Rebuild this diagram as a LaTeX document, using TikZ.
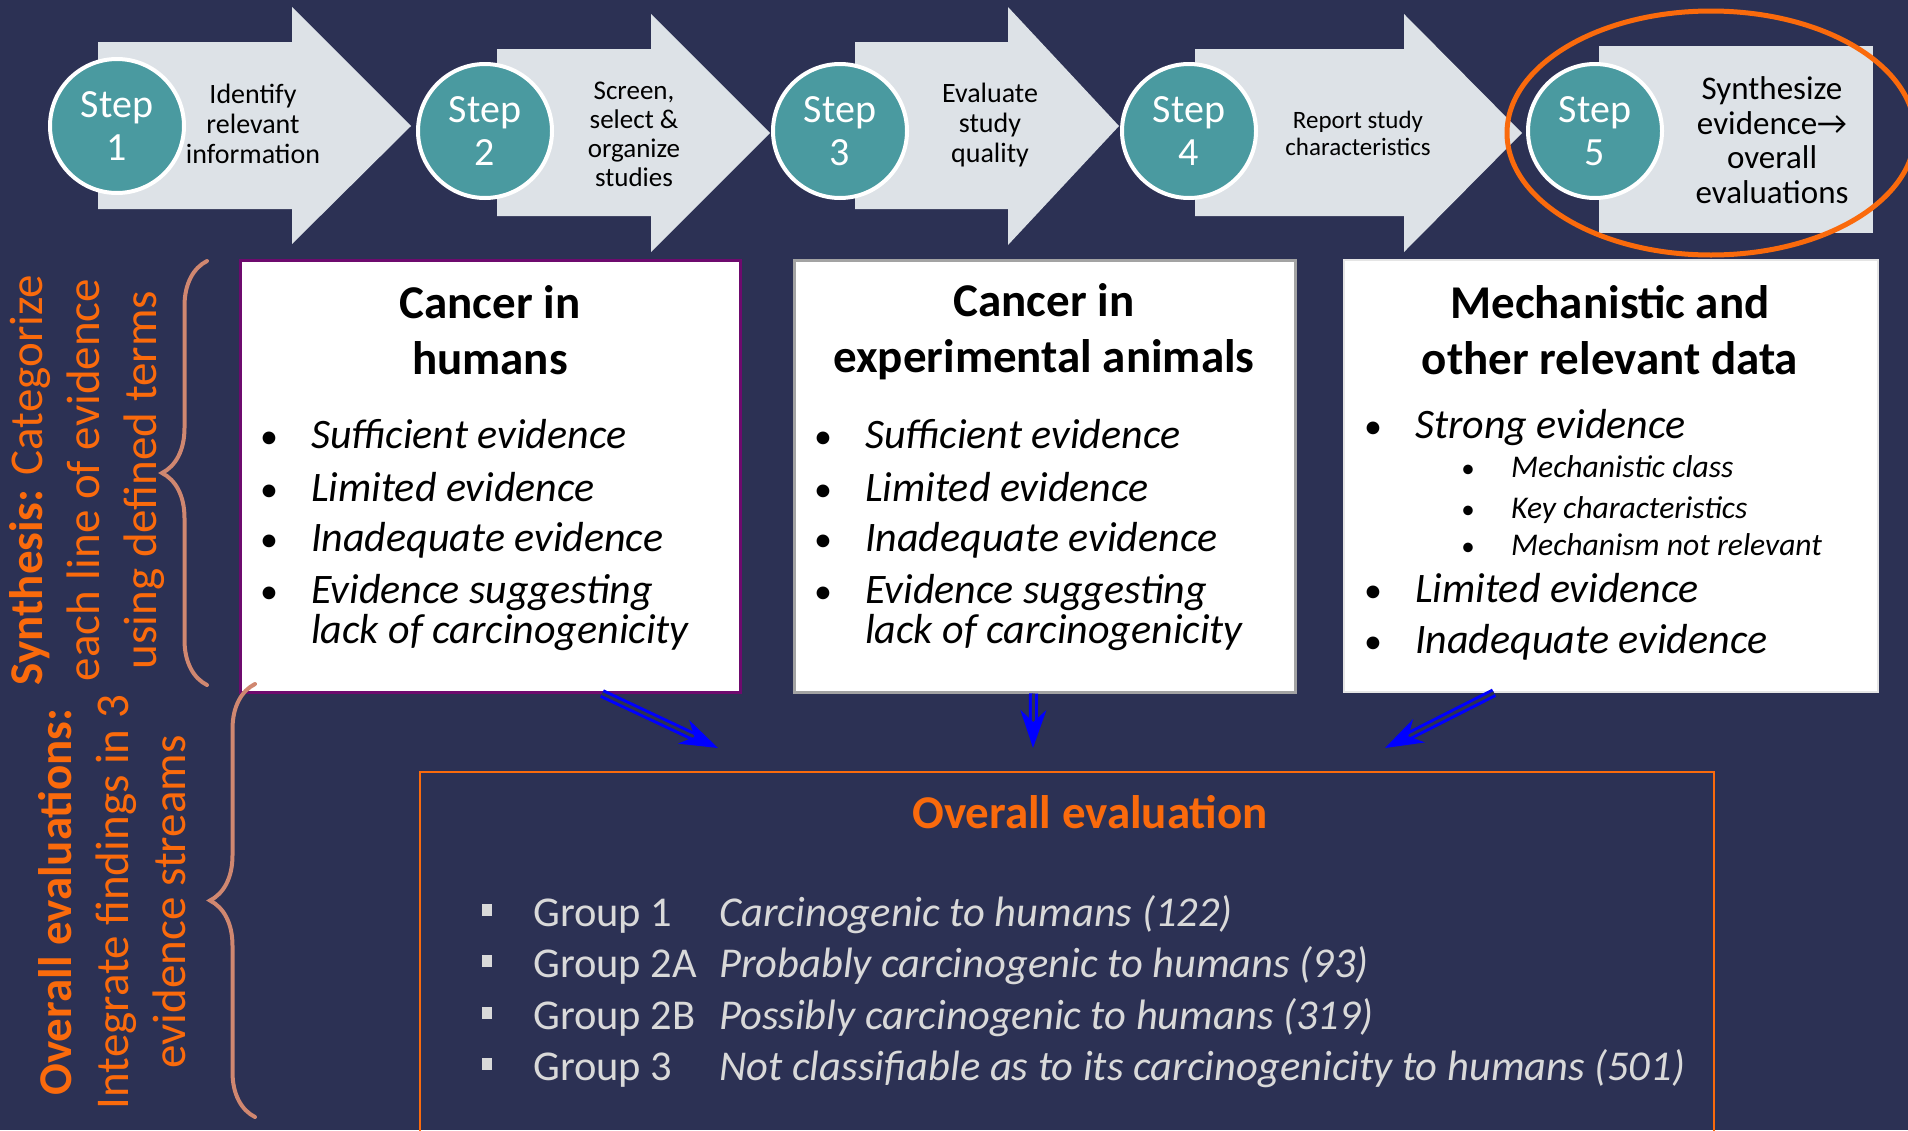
\documentclass[tikz,border=0pt]{standalone}
\usepackage{fontspec}
\setmainfont{Carlito}
\usepackage{tikz}
\usetikzlibrary{arrows.meta,decorations.pathreplacing}

\definecolor{navy}{HTML}{2C3154}
\definecolor{stepteal}{HTML}{4A9AA0}
\definecolor{stepgray}{HTML}{DDE2E7}
\definecolor{evalorange}{HTML}{FA6A0C}
\definecolor{bracetan}{HTML}{D08770}
\definecolor{boxpurple}{HTML}{6E0A6E}
\definecolor{boxgray}{HTML}{A3A3A3}
\definecolor{grouptext}{HTML}{D9D9D9}

\tikzset{
  stepcirc/.style={circle,fill=stepteal,draw=white,line width=4,minimum size=134,inner sep=0,
    text=white,align=center,font=\fontsize{40}{43}\selectfont},
  steptext/.style={align=center,inner sep=0,text=black},
  boxtitle/.style={align=center,inner sep=0,font=\bfseries\fontsize{47}{56}\selectfont},
  bul/.style={anchor=base west,inner sep=0,font=\itshape\fontsize{42}{49}\selectfont},
  subbul/.style={anchor=base west,inner sep=0,font=\itshape\fontsize{31.6}{37}\selectfont},
  dot/.style={anchor=base,inner sep=0,font=\fontsize{36}{40}\selectfont},
  subdot/.style={anchor=base,inner sep=0,font=\fontsize{27}{30}\selectfont},
  grp/.style={anchor=base west,inner sep=0,text=grouptext,font=\fontsize{42.5}{50}\selectfont},
  grpdesc/.style={grp,font=\itshape\fontsize{42.5}{50}\selectfont},
  grpsq/.style={rectangle,fill=grouptext,minimum width=10,minimum height=12,inner sep=0},
  sidetext/.style={rotate=90,align=center,inner sep=0,text=evalorange,font=\fontsize{47}{57}\selectfont},
  brace/.style={decorate,decoration={brace,amplitude=45pt},draw=bracetan,line width=4,line cap=round},
  evarrow/.style={draw=blue,double=navy,double distance=3,line width=3,
    -{Stealth[length=38pt,width=26pt,inset=12pt]}}
}

\begin{document}
\begin{tikzpicture}[x=1pt,y=-1pt]
\useasboundingbox (0,0) rectangle (1908,1130);
\fill[navy] (0,0) rectangle (1908,1130);

% step arrows
\fill[stepgray] (98,42) -- (292,42) -- (292,7) -- (411,126) -- (292,244) -- (292,209) -- (98,209) -- cycle;
\fill[stepgray] (497,49) -- (651,49) -- (651,14) -- (770,133) -- (651,252) -- (651,216) -- (497,216) -- cycle;
\fill[stepgray] (855,42) -- (1008,42) -- (1008,7) -- (1119,126) -- (1008,245) -- (1008,209) -- (855,209) -- cycle;
\fill[stepgray] (1195,49) -- (1404,49) -- (1404,14) -- (1522,133) -- (1404,252) -- (1404,216) -- (1195,216) -- cycle;
\fill[stepgray] (1599,46) rectangle (1873,233);

\node[stepcirc](s1)at(117,126){Step\\1};
\node[stepcirc](s2)at(485,131){Step\\2};
\node[stepcirc](s3)at(840,131){Step\\3};
\node[stepcirc](s4)at(1189,131){Step\\4};
\node[stepcirc](s5)at(1595,131){Step\\5};

\node[steptext,font=\fontsize{28}{30}\selectfont](t1)at(253,124){Identify\\relevant\\information};
\node[steptext,font=\fontsize{27}{29}\selectfont](t2)at(634,134){Screen,\\select \&\\organize\\studies};
\node[steptext,font=\fontsize{28}{30}\selectfont](t3)at(990,125){Evaluate\\study\\quality};
\node[steptext,font=\fontsize{25}{27}\selectfont](t4)at(1358,133){Report study\\characteristics};
\node[steptext,font=\fontsize{33}{34.5}\selectfont](t5)at(1772,140){Synthesize\\evidence\textrightarrow\\overall\\evaluations};

\draw[evalorange,line width=5] (1711,133) ellipse [x radius=204pt,y radius=122pt];

% three evidence streams
\node[draw=boxpurple,line width=3,fill=white,minimum width=500,minimum height=432,inner sep=0](box1)at(490,476){};
\node[draw=boxgray,line width=3,fill=white,minimum width=501,minimum height=432,inner sep=0](box2)at(1044.5,476){};
\node[draw=white!90!black,line width=1.5,fill=white,minimum width=534,minimum height=432,inner sep=0](box3)at(1611,476){};

\node[boxtitle](h1)at(490,330){Cancer in\\humans};
\node[boxtitle](h2)at(1044,332){Cancer in\\experimental animals};
\node[boxtitle](h3)at(1610,330){Mechanistic and\\other relevant data};

\node[dot](d11)at(269,448){\textbullet};
\node[bul](b11)at(311,448){Sufficient evidence};
\node[dot](d12)at(269,501){\textbullet};
\node[bul](b12)at(311,501){Limited evidence};
\node[dot](d13)at(269,551){\textbullet};
\node[bul](b13)at(311,551){Inadequate evidence};
\node[dot](d14)at(269,603){\textbullet};
\node[bul](b14)at(311,603){Evidence suggesting};
\node[bul](b15)at(311,643){lack of carcinogenicity};

\node[dot](d21)at(823,448){\textbullet};
\node[bul](b21)at(865,448){Sufficient evidence};
\node[dot](d22)at(823,501){\textbullet};
\node[bul](b22)at(865,501){Limited evidence};
\node[dot](d23)at(823,551){\textbullet};
\node[bul](b23)at(865,551){Inadequate evidence};
\node[dot](d24)at(823,603){\textbullet};
\node[bul](b24)at(865,603){Evidence suggesting};
\node[bul](b25)at(865,643){lack of carcinogenicity};

\node[dot](d31)at(1373,438){\textbullet};
\node[bul](b31)at(1415,438){Strong evidence};
\node[subdot](d32)at(1468,477){\textbullet};
\node[subbul](b32)at(1511,477){Mechanistic class};
\node[subdot](d33)at(1468,518){\textbullet};
\node[subbul](b33)at(1511,518){Key characteristics};
\node[subdot](d34)at(1468,555){\textbullet};
\node[subbul](b34)at(1511,555){Mechanism not relevant};
\node[dot](d35)at(1373,602){\textbullet};
\node[bul](b35)at(1415,602){Limited evidence};
\node[dot](d36)at(1373,653){\textbullet};
\node[bul](b36)at(1415,653){Inadequate evidence};

% overall evaluation
\node[draw=evalorange,line width=2,minimum width=1294,minimum height=380,inner sep=0](ev)at(1067,962){};
\node[text=evalorange,inner sep=0,font=\bfseries\fontsize{47}{50}\selectfont](evt)at(1090,812){Overall evaluation};

\node[grpsq](q1)at(487,910){};
\node[grp](g1)at(533,926){Group 1};
\node[grpdesc](e1)at(719,926){Carcinogenic to humans (122)};
\node[grpsq](q2)at(487,961){};
\node[grp](g2)at(533,977){Group 2A};
\node[grpdesc](e2)at(719,977){Probably carcinogenic to humans (93)};
\node[grpsq](q3)at(487,1013){};
\node[grp](g3)at(533,1029){Group 2B};
\node[grpdesc](e3)at(719,1029){Possibly carcinogenic to humans (319)};
\node[grpsq](q4)at(487,1064){};
\node[grp](g4)at(533,1080){Group 3};
\node[grpdesc](e4)at(719,1080){Not classifiable as to its carcinogenicity to humans (501)};

\coordinate (a1)at(718,748);
\coordinate (a2)at(1033,748);
\coordinate (a3)at(1385,748);
\draw[evarrow] ([xshift=112]box1.south) -- (a1);
\draw[evarrow] ([xshift=-11]box2.south) -- (a2);
\draw[evarrow] ([xshift=-117]box3.south) -- (a3);

% side labels and braces
\node[sidetext](syn)at(87,480){\textbf{Synthesis:} Categorize\\each line of evidence\\using defined terms};
\node[sidetext](ovl)at(112,902){\textbf{Overall evaluations:}\\Integrate findings in 3\\evidence streams};
\draw[brace] (207,685) -- (207,261);
\draw[brace] (255,1117) -- (255,684);
\end{tikzpicture}
\end{document}
